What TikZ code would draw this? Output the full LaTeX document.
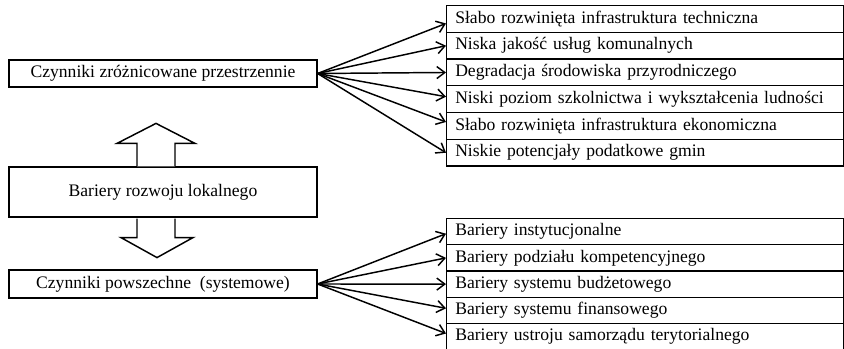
\documentclass[tikz,border=0pt]{standalone}
\usepackage{fontspec}
\setmainfont{Liberation Serif}
\usetikzlibrary{arrows.meta,calc}
\begin{document}
\begin{tikzpicture}[x=0.75pt,y=-0.75pt,
  txt/.style={font=\fontsize{13.2}{15}\selectfont},
  leftbox/.style={draw, line width=0.9pt, txt, inner sep=0pt, minimum width=231pt, anchor=center},
  rowbox/.style={draw, line width=0.9pt, txt, anchor=north west, inner xsep=6.5pt, inner ysep=0pt,
     minimum width=297.75pt, text width=284.75pt, align=left},
  conn/.style={line width=1.1pt, -{Straight Barb[length=6pt,width=9pt,line width=1.1pt]}},
  blockarrow/.style={draw, line width=1.1pt, fill=white}]
\useasboundingbox (0,0) rectangle (844,349);

% left boxes
\node[leftbox, minimum height=20.25pt] (czz) at (163,73.5) {Czynniki zróżnicowane przestrzennie};
\node[leftbox, minimum height=37.5pt] (bar) at (163,192) {Bariery rozwoju lokalnego};
\node[leftbox, minimum height=21pt] (czp) at (163,284) {Czynniki powszechne\ \ (systemowe)};

% top rows
\node[rowbox, minimum height=20.06pt] (t1) at (446,5) {\mbox{Słabo rozwinięta infrastruktura techniczna}};
\node[rowbox, minimum height=20.06pt] (t2) at (446,31.75) {\mbox{Niska jakość usług komunalnych}};
\node[rowbox, minimum height=20.06pt] (t3) at (446,58.5) {\mbox{Degradacja środowiska przyrodniczego}};
\node[rowbox, minimum height=20.06pt] (t4) at (446,85.25) {\mbox{Niski poziom szkolnictwa i wykształcenia ludności}};
\node[rowbox, minimum height=20.06pt] (t5) at (446,112) {\mbox{Słabo rozwinięta infrastruktura ekonomiczna}};
\node[rowbox, minimum height=20.06pt] (t6) at (446,138.75) {\mbox{Niskie potencjały podatkowe gmin}};

% bottom rows
\node[rowbox, minimum height=19.65pt] (b1) at (446,218) {\mbox{Bariery instytucjonalne}};
\node[rowbox, minimum height=19.65pt] (b2) at (446,244.2) {\mbox{Bariery podziału kompetencyjnego}};
\node[rowbox, minimum height=19.65pt] (b3) at (446,270.4) {\mbox{Bariery systemu budżetowego}};
\node[rowbox, minimum height=19.65pt] (b4) at (446,296.6) {\mbox{Bariery systemu finansowego}};
\node[rowbox, minimum height=19.65pt] (b5) at (446,322.8) {\mbox{Bariery ustroju samorządu terytorialnego}};

% connectors top
\draw[conn] (czz.east) -- ($(t1.west)+(0,4.5)$);
\draw[conn] (czz.east) -- (t2.west);
\draw[conn] (czz.east) -- (t3.west);
\draw[conn] (czz.east) -- ($(t4.west)+(0,-2.5)$);
\draw[conn] (czz.east) -- ($(t5.west)+(0,-4)$);
\draw[conn] (czz.east) -- (t6.west);

% connectors bottom
\draw[conn] (czp.east) -- ($(b1.west)+(0,2)$);
\draw[conn] (czp.east) -- (b2.west);
\draw[conn] (czp.east) -- (b3.west);
\draw[conn] (czp.east) -- ($(b4.west)+(0,-2)$);
\draw[conn] (czp.east) -- ($(b5.west)+(0,-3)$);

% block arrows
\draw[blockarrow] ($(bar.north)+(-26,0)$) -- ++(0,-23) -- ++(-20,0) -- ++(39,-20) -- ++(39,20) -- ++(-20,0) -- ++(0,23);
\draw[blockarrow] ($(bar.south)+(-26,1)$) -- ++(0,19) -- ++(-16,0) -- ++(36,20) -- ++(36,-20) -- ++(-18,0) -- ++(0,-19);
\end{tikzpicture}
\end{document}
